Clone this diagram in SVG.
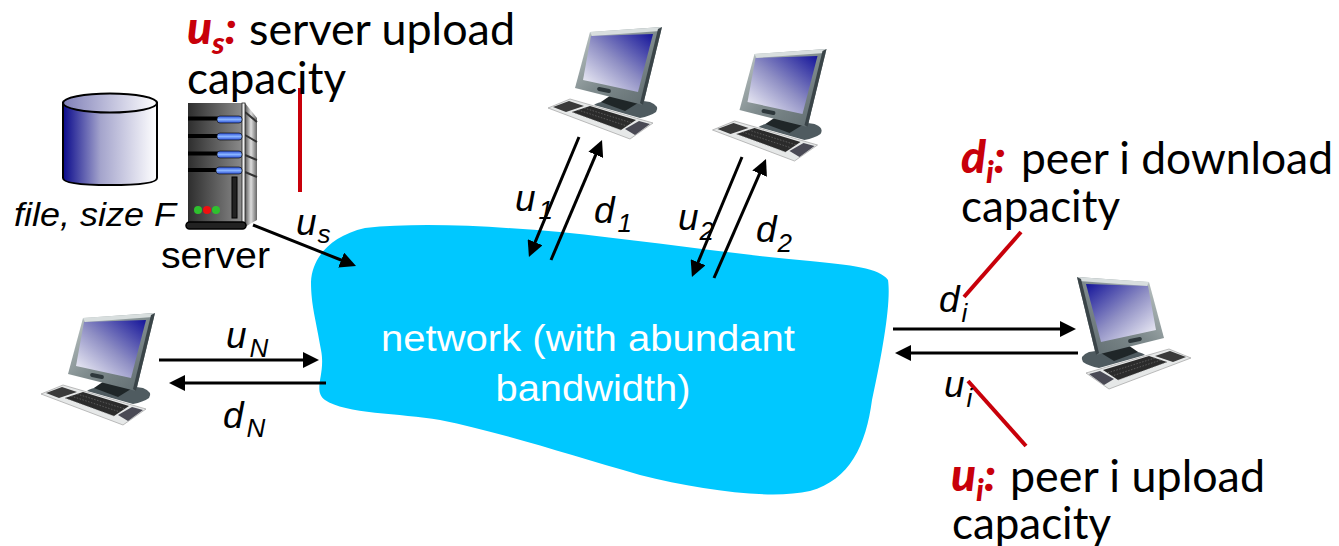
<svg xmlns="http://www.w3.org/2000/svg" xmlns:xlink="http://www.w3.org/1999/xlink" width="1339" height="546" viewBox="0 0 1339 546">
<style>
.cal{font-family:"Lato","Noto Sans",sans-serif;font-size:44px;fill:#000}
.red{font-family:"Lato","Noto Sans",sans-serif;font-size:46px;font-weight:900;font-style:italic;fill:#c8000a}
.redsub{font-size:31px}
.ar{font-family:"Liberation Sans",Arial,sans-serif;font-size:37px;fill:#000}
.it{font-style:italic}
.sub{font-size:26px}
.wh{fill:#fff}
.conn{stroke:#000;stroke-width:3;fill:none;marker-end:url(#ah)}
.rl{stroke:#c8000a;stroke-width:4;fill:none}
</style>
<defs>
<marker id="ah" markerUnits="userSpaceOnUse" markerWidth="18" markerHeight="16" refX="8" refY="8" orient="auto"><path d="M0 0L16 8L0 16Z" fill="#000"/></marker>
<linearGradient id="scr" x1="1" y1="0" x2="0" y2="1"><stop offset="0" stop-color="#14149a"/><stop offset=".5" stop-color="#8f8fc4"/><stop offset="1" stop-color="#fbfbfd"/></linearGradient>
<linearGradient id="cyl" x1="0" y1="0" x2="1" y2="0"><stop offset="0" stop-color="#0a0a8c"/><stop offset=".4" stop-color="#a4a4cc"/><stop offset="1" stop-color="#ffffff"/></linearGradient>
<linearGradient id="cylt" x1="0" y1="0" x2="1" y2="0"><stop offset="0" stop-color="#8080b8"/><stop offset="1" stop-color="#ffffff"/></linearGradient>
<linearGradient id="bod" x1="0" y1="0" x2="1" y2="0"><stop offset="0" stop-color="#2e2e2e"/><stop offset="1" stop-color="#8a8a8a"/></linearGradient>
<linearGradient id="sid" x1="0" y1="0" x2="1" y2="0"><stop offset="0" stop-color="#555"/><stop offset=".5" stop-color="#ddd"/><stop offset="1" stop-color="#666"/></linearGradient>
<linearGradient id="blu" x1="0" y1="0" x2="0" y2="1"><stop offset="0" stop-color="#2a50d8"/><stop offset=".5" stop-color="#8ab4ff"/><stop offset="1" stop-color="#2a50d8"/></linearGradient>
<linearGradient id="mon" x1="0" y1="0" x2="1" y2="1"><stop offset="0" stop-color="#c4cccc"/><stop offset=".5" stop-color="#7f8b8d"/><stop offset="1" stop-color="#5c686c"/></linearGradient>
<g id="pc">
<path d="M594 105Q600 100 630 99L650 102Q660 106 656 112Q650 116 640 118Z" fill="#4f5b60"/>
<path d="M601 102L614 93L628 93L638 103L625 111Z" fill="#1f2628"/>
<path d="M590 32L662 27L643 105L575 88Z" fill="url(#mon)"/>
<path d="M590 32L662 27L660 31L592 36Z" fill="#d8dede"/>
<path d="M662 27L643 105L640 103L658 29Z" fill="#3a4448"/>
<path d="M591 36L653 34L638 92L583 80Z" fill="url(#scr)"/>
<rect x="597" y="88" width="14" height="4" rx="2" transform="rotate(12 604 90)" fill="#2e383c"/>
<path d="M548 108L570 99L653 123L630 139Z" fill="#e6e8e8" stroke="#a0a0a0" stroke-width=".7"/>
<path d="M553 107L569 101L584 106L566 112Z" fill="#3a3a3a"/>
<path d="M572 112L590 106L636 120L621 130Z" fill="#2b2b2b"/>
<path d="M625 129L639 121L650 124L635 135Z" fill="#4a4a55"/>
<path d="M572 112L621 130M578 110L627 126M584 108L632 123" stroke="#777" stroke-width=".6" stroke-dasharray="1.500 1.500" fill="none"/>
</g>
</defs>
<rect width="1339" height="546" fill="#fff"/>
<g id="network">
<path d="M311 282C312 258 330 236 365 228C420 222 490 226 560 232C640 240 730 254 810 261C850 265 880 268 888 280C891 300 884 345 872 400C866 445 850 480 810 491C770 500 700 490 640 475C570 455 500 432 440 420C400 413 345 414 325 400C312 390 326 375 321 350C316 320 311 305 311 282Z" fill="#00c8ff"/>
<text class="ar wh" x="588" y="351" text-anchor="middle" textLength="414" lengthAdjust="spacingAndGlyphs">network (with abundant</text>
<text class="ar wh" x="593" y="401" text-anchor="middle" textLength="195" lengthAdjust="spacingAndGlyphs">bandwidth)</text>
</g>
<g id="file">
<path d="M63 103V178Q63 185 110 185Q157 185 157 178V103Z" fill="url(#cyl)" stroke="#000" stroke-width="2"/>
<ellipse cx="110" cy="103" rx="47" ry="9.500" fill="url(#cylt)" stroke="#000" stroke-width="2"/>
<text class="ar it" x="14" y="226" textLength="162" lengthAdjust="spacingAndGlyphs" style="font-size:34px">file, size F</text>
</g>
<g id="server">
<path d="M245 103L257 118V220L245 227Z" fill="url(#sid)"/>
<path d="M245 112L257 122M245 135L257 142M245 155L257 160M245 172L257 177" stroke="#333" stroke-width="2"/>
<rect x="188" y="103" width="54" height="120" fill="url(#bod)"/>
<rect x="242" y="103" width="3" height="124" fill="#eee" stroke="#222" stroke-width=".8"/>
<g fill="#000"><rect x="188" y="116.500" width="30" height="4"/><rect x="188" y="134" width="30" height="4"/><rect x="188" y="151.500" width="30" height="4"/><rect x="188" y="168" width="30" height="4"/></g>
<g fill="url(#blu)" stroke="#111" stroke-width=".7"><rect x="217" y="116" width="25" height="7" rx="3"/><rect x="217" y="133" width="25" height="7" rx="3"/><rect x="217" y="151" width="25" height="7" rx="3"/><rect x="216" y="167" width="26" height="7" rx="3"/></g>
<rect x="232" y="177" width="5" height="41" fill="#222" stroke="#000"/>
<circle cx="198" cy="210" r="4" fill="#2ec02e"/><circle cx="216" cy="210" r="4" fill="#2ec02e"/><circle cx="207" cy="210" r="4" fill="#f01010"/>
<rect x="186" y="222" width="60" height="7" rx="3.500" fill="#222" stroke="#000" stroke-width="1.500"/>
<text class="ar" x="161" y="268" textLength="109" lengthAdjust="spacingAndGlyphs">server</text>
</g>
<g id="peer1"><use xlink:href="#pc" href="#pc"/></g>
<g id="peer2"><use xlink:href="#pc" href="#pc" transform="translate(164.500 22)"/></g>
<g id="peerN"><use xlink:href="#pc" href="#pc" transform="translate(-507 286)"/></g>
<g id="peeri"><use xlink:href="#pc" href="#pc" transform="translate(1739 250) scale(-1 1)"/></g>
<g id="connectors">
<line class="conn" x1="579" y1="137" x2="532" y2="249.600"/>
<line class="conn" x1="551" y1="260" x2="598.900" y2="147.400"/>
<line class="conn" x1="742" y1="157" x2="695" y2="269.600"/>
<line class="conn" x1="714" y1="278" x2="762.800" y2="166.300"/>
<line class="conn" x1="253" y1="225" x2="348.600" y2="263"/>
<line class="conn" x1="159" y1="360" x2="311" y2="360"/>
<line class="conn" x1="326" y1="383" x2="177" y2="383"/>
<line class="conn" x1="893" y1="329" x2="1068" y2="329"/>
<line class="conn" x1="1078" y1="353" x2="903" y2="353"/>
<line class="rl" x1="300" y1="88" x2="300" y2="192"/>
<line class="rl" x1="1021" y1="232" x2="964" y2="297"/>
<line class="rl" x1="968" y1="381" x2="1026" y2="446"/>
</g>
<g id="labels">
<text class="ar it" x="296" y="235">u<tspan class="sub" dx="1" dy="8">s</tspan></text>
<text class="ar it" x="515" y="211">u<tspan class="sub" dx="3" dy="8">1</tspan></text>
<text class="ar it" x="594" y="223">d<tspan class="sub" dx="3" dy="9">1</tspan></text>
<text class="ar it" x="678" y="230">u<tspan class="sub" dx="1" dy="10">2</tspan></text>
<text class="ar it" x="756" y="242">d<tspan class="sub" dx="1" dy="10">2</tspan></text>
<text class="ar it" x="226" y="348">u<tspan class="sub" dx="3" dy="9">N</tspan></text>
<text class="ar it" x="223" y="428">d<tspan class="sub" dx="3" dy="9">N</tspan></text>
<text class="ar it" x="939" y="312">d<tspan class="sub" dx="2" dy="10">i</tspan></text>
<text class="ar it" x="944" y="397">u<tspan class="sub" dx="2" dy="10">i</tspan></text>
<text class="red" x="187" y="44">u<tspan class="redsub" dy="10">s</tspan><tspan dy="-10">:</tspan></text>
<text class="cal" x="249" y="44.500" textLength="266" lengthAdjust="spacingAndGlyphs">server upload</text>
<text class="cal" x="187" y="93.500" textLength="159" lengthAdjust="spacingAndGlyphs">capacity</text>
<text class="red" x="961" y="173">d<tspan class="redsub" dy="10">i</tspan><tspan dy="-10">:</tspan></text>
<text class="cal" x="1021" y="173.500" textLength="312" lengthAdjust="spacingAndGlyphs">peer i download</text>
<text class="cal" x="961" y="221.500" textLength="159" lengthAdjust="spacingAndGlyphs">capacity</text>
<text class="red" x="951" y="491">u<tspan class="redsub" dy="10">i</tspan><tspan dy="-10">:</tspan></text>
<text class="cal" x="1010" y="491.500" textLength="255" lengthAdjust="spacingAndGlyphs">peer i upload</text>
<text class="cal" x="952" y="539" textLength="159" lengthAdjust="spacingAndGlyphs">capacity</text>
</g>
</svg>
